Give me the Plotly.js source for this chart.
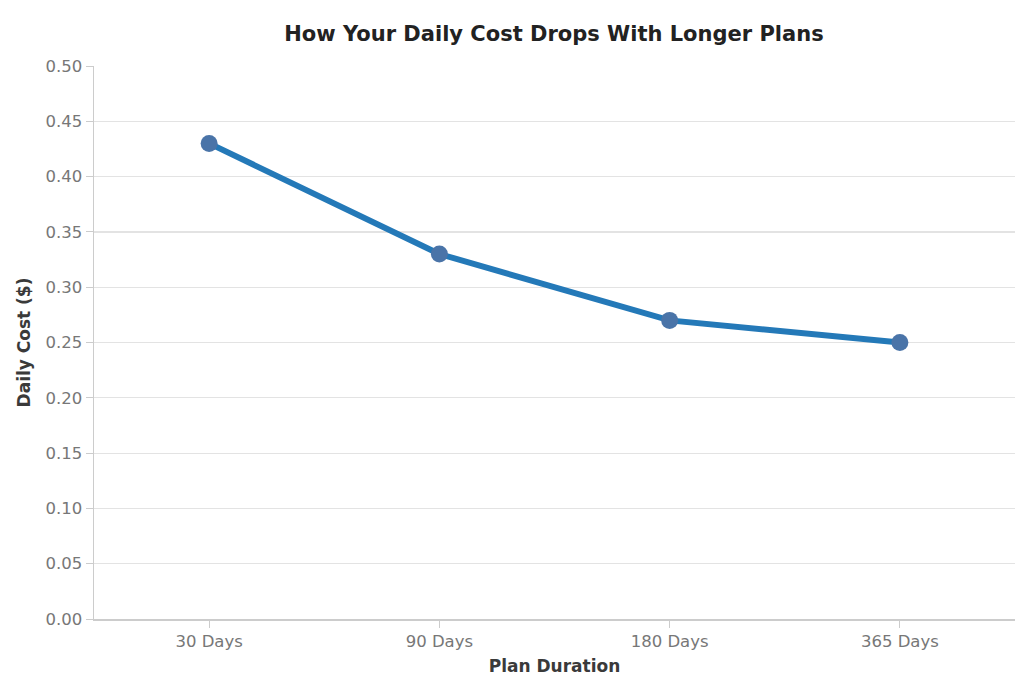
<!DOCTYPE html>
<html>
<head>
<meta charset="utf-8">
<script src="https://cdn.plot.ly/plotly-3.0.1.min.js"></script>
<style>
  html, body { margin: 0; padding: 0; background: #fff; }
  #chart { width: 1024px; height: 688px; }
</style>
</head>
<body>
<div id="chart"></div>
<script>
// plan durations and daily cost per plan
const plans = ["30 Days", "90 Days", "180 Days", "365 Days"];
const dailyCost = [0.43, 0.33, 0.27, 0.25];

const yTicks = [0, 0.05, 0.1, 0.15, 0.2, 0.25, 0.3, 0.35, 0.4, 0.45, 0.5];

const font = "DejaVu Sans, Noto Sans, sans-serif";

const trace = {
  x: plans,
  y: dailyCost,
  mode: "lines+markers",
  line: { color: "#2479b8", width: 6 },
  marker: { color: "#4a74a8", size: 17 },
  hoverinfo: "x+y",
};

const layout = {
  width: 1024,
  height: 688,
  margin: { l: 94, r: 9, t: 66, b: 69 },
  paper_bgcolor: "#ffffff",
  plot_bgcolor: "#ffffff",
  showlegend: false,
  font: { family: font, color: "#777" },
  title: {
    text: "How Your Daily Cost Drops With Longer Plans",
    font: { family: font, size: 21, color: "#222", weight: "bold" },
    x: 0.541,
    xanchor: "center",
    y: 0.951,
    yanchor: "middle",
  },
  xaxis: {
    type: "category",
    range: [-0.5, 3.5],
    showgrid: false,
    showline: true,
    linecolor: "#ccc",
    linewidth: 1.5,
    ticks: "outside",
    ticklen: 7,
    tickcolor: "#ccc",
    tickfont: { size: 16.5, color: "#777" },
    zeroline: false,
    title: {
      text: "Plan Duration",
      font: { size: 17, color: "#3a3a3a", weight: "bold" },
      standoff: 10,
    },
  },
  yaxis: {
    range: [0, 0.5],
    tickvals: yTicks,
    tickformat: ".2f",
    showgrid: true,
    gridcolor: "#e3e3e3",
    gridwidth: 1.2,
    showline: true,
    linecolor: "#ccc",
    linewidth: 1.5,
    ticks: "outside",
    ticklen: 7,
    tickcolor: "#ccc",
    tickfont: { size: 16.5, color: "#777" },
    zeroline: false,
    title: {
      text: "Daily Cost ($)",
      font: { size: 17, color: "#3a3a3a", weight: "bold" },
      standoff: 10,
    },
  },
};

Plotly.newPlot("chart", [trace], layout, { displayModeBar: false, staticPlot: true });
</script>
</body>
</html>
